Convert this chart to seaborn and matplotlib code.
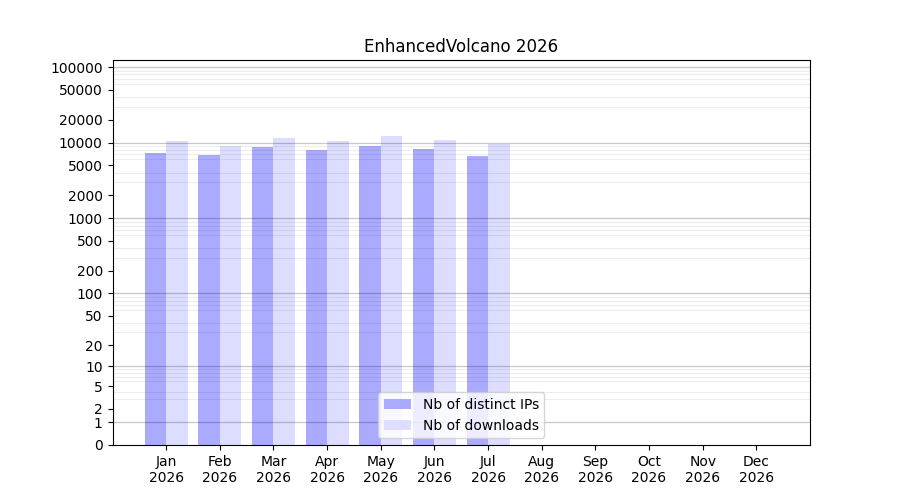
import numpy as np
import pandas as pd
import matplotlib
matplotlib.use("Agg")
import matplotlib.pyplot as plt
import seaborn as sns

# monthly stats
months = ["Jan", "Feb", "Mar", "Apr", "May", "Jun", "Jul", "Aug", "Sep", "Oct", "Nov", "Dec"]
year = 2026
distinct_ips = [7350, 6920, 8830, 8050, 9100, 8300, 6700]
downloads = [10600, 9100, 11600, 10600, 12300, 10900, 9660]
y_ticks = [0, 1, 2, 5, 10, 20, 50, 100, 200, 500, 1000, 2000, 5000,
           10000, 20000, 50000, 100000]

labels = [f"{m}\n{year}" for m in months]
n = len(distinct_ips)
df = pd.DataFrame({
    "month": labels[:n] * 2,
    "count": distinct_ips + downloads,
    "kind": ["Nb of distinct IPs"] * n + ["Nb of downloads"] * n,
})

fig, ax = plt.subplots(figsize=(9, 5), dpi=100)

sns.barplot(data=df, x="month", y="count", hue="kind", order=labels,
            palette={"Nb of distinct IPs": "#aaaaff", "Nb of downloads": "#ddddff"},
            saturation=1, linewidth=0, errorbar=None, ax=ax)

# log(y+1) scale so that 0 can be shown
def fwd(y):
    return np.log10(np.maximum(y, 0) + 1)

def inv(y):
    return 10 ** y - 1

ax.set_yscale("function", functions=(fwd, inv))

ax.set_yticks(y_ticks)
ax.set_yticklabels([str(t) for t in y_ticks])
minor = [m * 10 ** k for k in range(0, 5) for m in range(2, 10)]
ax.set_yticks(minor, minor=True)
ax.tick_params(axis="y", which="minor", length=0)
ax.yaxis.grid(True, which="minor", color="black", alpha=0.07, linewidth=0.8)
ax.yaxis.grid(False, which="major")
for k in range(0, 6):
    ax.axhline(10 ** k, color="black", alpha=0.22, linewidth=0.9, zorder=1.5)

ax.set_ylim(0, 124000)
ax.set_xlim(-1, 12)

ax.set_xlabel("")
ax.set_ylabel("")
ax.set_title(f"EnhancedVolcano {year}")
sns.move_legend(ax, "lower center", title=None)

plt.savefig("out.png", dpi=100)
